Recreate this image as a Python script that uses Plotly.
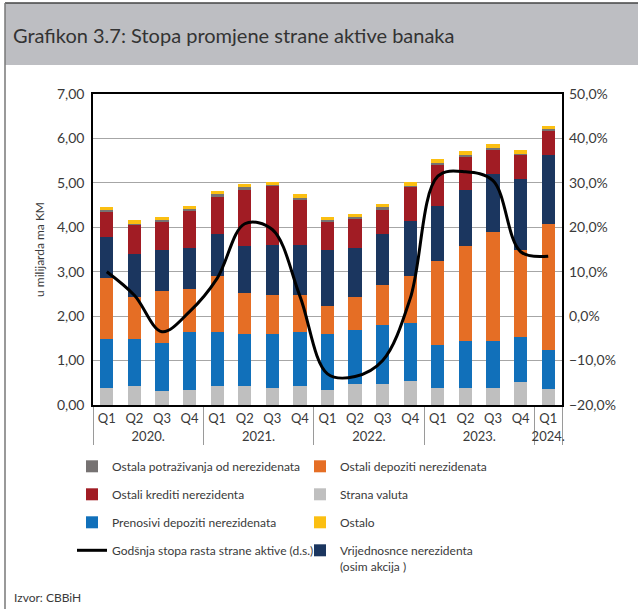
import plotly.graph_objects as go

quarters = ["Q1", "Q2", "Q3", "Q4"] * 4 + ["Q1"]
years = ["2020."] * 4 + ["2021."] * 4 + ["2022."] * 4 + ["2023."] * 4 + ["2024."]

strana_valuta = [0.38, 0.43, 0.31, 0.34, 0.43, 0.43, 0.38, 0.43, 0.34, 0.47, 0.47, 0.55, 0.39, 0.39, 0.39, 0.52, 0.35]
prenosivi_depoziti = [1.10, 1.05, 1.09, 1.30, 1.21, 1.17, 1.22, 1.21, 1.26, 1.22, 1.34, 1.30, 0.96, 1.06, 1.06, 1.00, 0.89]
ostali_depoziti = [1.37, 0.96, 1.16, 0.97, 1.26, 0.92, 0.88, 0.84, 0.63, 0.74, 0.88, 1.05, 1.89, 2.12, 2.45, 1.96, 2.83]
vrijednosnice = [0.93, 0.96, 0.92, 0.92, 0.96, 1.05, 1.13, 1.13, 1.25, 1.10, 1.17, 1.25, 1.25, 1.26, 1.31, 1.60, 1.55]
ostali_krediti = [0.58, 0.67, 0.66, 0.84, 0.84, 1.28, 1.33, 1.00, 0.64, 0.66, 0.54, 0.76, 0.92, 0.76, 0.54, 0.55, 0.54]
ostala_potrazivanja = [0.02, 0.01, 0.02, 0.04, 0.04, 0.06, 0.01, 0.05, 0.04, 0.04, 0.05, 0.03, 0.04, 0.04, 0.04, 0.03, 0.05]
ostalo = [0.07, 0.08, 0.08, 0.08, 0.08, 0.07, 0.08, 0.08, 0.07, 0.08, 0.08, 0.09, 0.09, 0.08, 0.08, 0.09, 0.08]
godisnja_stopa = [10.0, 4.7, -3.5, 1.0, 8.5, 20.8, 19.5, 4.5, -13.0, -13.6, -10.0, 4.0, 31.5, 32.5, 30.5, 14.5, 13.5]

FONT = "Lato, Roboto, sans-serif"
TXT = "#3a3a3a"

x = [years, quarters]

# (name, values, colour, legend, rank)
series = [
    ("Strana valuta", strana_valuta, "#bfbfbf", "legend2", 2),
    ("Prenosivi depoziti nerezidenata", prenosivi_depoziti, "#1170ba", "legend", 3),
    ("Ostali depoziti nerezidenata", ostali_depoziti, "#e56e25", "legend2", 1),
    ("Vrijednosnce nerezidenta<br>(osim akcija )", vrijednosnice, "#1b365f", "legend2", 4),
    ("Ostali krediti nerezidenta", ostali_krediti, "#a11c24", "legend", 2),
    ("Ostala potraživanja od nerezidenata", ostala_potrazivanja, "#767272", "legend", 1),
    ("Ostalo", ostalo, "#fbbf12", "legend2", 3),
]

fig = go.Figure()
for name, vals, col, leg, rank in series:
    fig.add_trace(go.Bar(
        x=x, y=vals, name=name, marker=dict(color=col, line=dict(width=0)),
        legend=leg, legendrank=rank, legendgroup=name,
    ))

fig.add_trace(go.Scatter(
    x=x, y=godisnja_stopa, name="Godšnja stopa rasta strane aktive (d.s.)",
    mode="lines", line=dict(color="black", width=3, shape="spline", smoothing=1.0),
    yaxis="y2", legend="legend", legendrank=4, legendgroup="line",
))

W, H = 638, 609
L, R, T, B = 93, 562, 94, 405
pw, ph = R - L, B - T


def px(v):
    return (v - L) / pw


def py(v):
    return (B - v) / ph


LEGFONT = dict(size=12, color=TXT)

fig.update_layout(
    width=W, height=H,
    margin=dict(l=L, r=W - R, t=T, b=H - B, autoexpand=False),
    paper_bgcolor="white", plot_bgcolor="white",
    barmode="stack", bargap=0.52,
    separators=", ",
    font=dict(family=FONT, size=13, color=TXT),
    title=dict(text="Grafikon 3.7: Stopa promjene strane aktive banaka",
               x=13 / W, xanchor="left", xref="container",
               y=1 - 36 / H, yanchor="middle", yref="container",
               font=dict(family=FONT, size=20, color="#333333")),
    xaxis=dict(type="multicategory", showline=True, linecolor="black", linewidth=2,
               mirror=True, ticks="", showdividers=True, dividercolor="#9a9a9a",
               dividerwidth=1, tickfont=dict(size=13, color=TXT)),
    yaxis=dict(range=[0, 7], dtick=1, tickformat=".2f", showgrid=True,
               gridcolor="#a6a6a6", gridwidth=1, showline=True, linecolor="black",
               linewidth=1.5, mirror=True, ticks="", zeroline=False, ticklabelstandoff=4,
               tickfont=dict(size=14, color=TXT),
               title=dict(text="u milijarda ma KM", font=dict(size=12, color=TXT), standoff=10)),
    yaxis2=dict(range=[-20, 50], dtick=10, tickformat=".1f", ticksuffix="%",
                overlaying="y", side="right", showgrid=False, zeroline=False,
                ticks="", showline=False, ticklabelstandoff=6,
                tickfont=dict(size=14, color=TXT)),
    legend=dict(orientation="v", x=px(72), y=py(452), xanchor="left", yanchor="top",
                traceorder="grouped", tracegroupgap=9, bgcolor="rgba(0,0,0,0)",
                font=LEGFONT, itemwidth=30, valign="top"),
    legend2=dict(orientation="v", x=px(300), y=py(452), xanchor="left", yanchor="top",
                 traceorder="grouped", tracegroupgap=9, bgcolor="rgba(0,0,0,0)",
                 font=LEGFONT, itemwidth=30, valign="top"),
    shapes=[
        dict(type="rect", xref="paper", yref="paper", x0=px(5), x1=px(W + 2),
             y0=py(65), y1=py(3), fillcolor="#bdbec2", line=dict(width=0), layer="below"),
        dict(type="line", xref="paper", yref="paper", x0=px(5), x1=px(W + 2),
             y0=py(3), y1=py(3), line=dict(color="#444444", width=1.5)),
        dict(type="line", xref="paper", yref="paper", x0=px(5), x1=px(5),
             y0=py(3), y1=py(H + 2), line=dict(color="#777777", width=1.5)),
    ],
    annotations=[
        dict(text="Izvor: CBBiH", xref="paper", yref="paper", x=px(12), y=py(597),
             xanchor="left", yanchor="middle", showarrow=False,
             font=dict(size=12, color=TXT)),
    ],
)

fig.write_html("out.html", config={"displayModeBar": False},
               post_script="document.body.style.margin='0';")
